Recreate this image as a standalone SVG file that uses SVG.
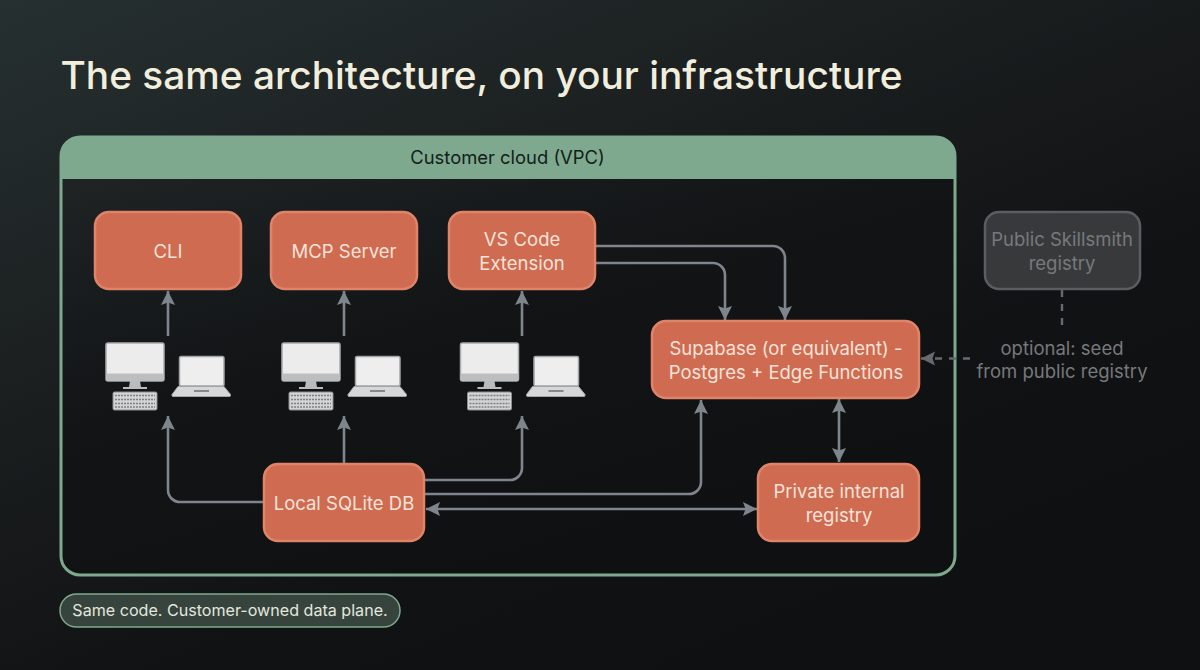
<svg xmlns="http://www.w3.org/2000/svg" width="1200" height="670" viewBox="0 0 1200 670">
<style>
text{font-family:Inter,"Liberation Sans",sans-serif;text-anchor:middle}
.node{fill:#cf6b50;stroke:#e08469;stroke-width:2.500}
.lbl{fill:#f7e3da;font-size:18.500px}
.c{fill:none;stroke:#7e858c;stroke-width:2.600}
.d{fill:none;stroke:#666a6e;stroke-width:2.400;stroke-dasharray:7 7}
.dim{fill:#77797b;font-size:18.500px}
</style>
<defs>
<linearGradient id="bg" x1="0" y1="0" x2="0.75" y2="1"><stop offset="0" stop-color="#263030"/><stop offset="0.35" stop-color="#1c2021"/><stop offset="0.7" stop-color="#111214"/><stop offset="1" stop-color="#0f1011"/></linearGradient>
<linearGradient id="inner" x1="0" y1="0" x2="0.6" y2="1"><stop offset="0" stop-color="#212627"/><stop offset="0.5" stop-color="#121416"/><stop offset="1" stop-color="#0f1012"/></linearGradient>
<marker id="a" markerUnits="userSpaceOnUse" markerWidth="15" markerHeight="15" refX="14" refY="7.500" orient="auto-start-reverse"><path d="M0 0.500L14 7.500L0 14.500L2.500 7.500Z" fill="#7e858c"/></marker>
<marker id="ad" markerUnits="userSpaceOnUse" markerWidth="15" markerHeight="15" refX="14" refY="7.500" orient="auto-start-reverse"><path d="M0 0.500L14 7.500L0 14.500L2.500 7.500Z" fill="#666a6e"/></marker>
<g id="devices">
<rect x="106" y="343" width="58" height="38" rx="2" fill="#ececec" stroke="#a9abad" stroke-width="1.500"/>
<rect x="106" y="373.500" width="58" height="7.500" rx="2" fill="#bcbec0"/>
<path d="M130 381h10l1 6h6v2h-24v-2h6z" fill="#b9bbbd"/>
<rect x="113" y="392" width="44" height="18" rx="1.500" fill="#d2d4d6" stroke="#8c8e90"/>
<path d="M115 395.500h40M115 399.500h40M115 403.500h40M115 407h40" stroke="#7d7f81" stroke-width="1.600" stroke-dasharray="2 1"/>
<rect x="179.500" y="356.500" width="44.500" height="29.500" rx="1.500" fill="#eeeeee" stroke="#a2a4a6" stroke-width="1.500"/>
<path d="M178 386.500h46l6.500 8v1q0 1-1 1h-56.500q-1 0-1-1v-1z" fill="#d5d7d9" stroke="#a2a4a6"/>
<rect x="194" y="390" width="15" height="2" fill="#85878a"/>
</g>
</defs>
<rect width="1200" height="670" fill="url(#bg)"/>
<text id="title" x="60.500" y="89" style="text-anchor:start;font-size:38.850px;font-weight:500" fill="#f1eedd">The same architecture, on your infrastructure</text>
<g id="vpc">
<rect x="61" y="137" width="894" height="438" rx="19" fill="url(#inner)" stroke="#7fa98f" stroke-width="3"/>
<path d="M61 179V156a19 19 0 0 1 19-19H936a19 19 0 0 1 19 19V179Z" fill="#7fa98f"/>
<text x="507.500" y="164" style="font-size:18.400px" fill="#122019">Customer cloud (VPC)</text>
</g>
<g id="connectors">
<path class="c" d="M168 336V291" marker-end="url(#a)"/>
<path class="c" d="M344 336V291" marker-end="url(#a)"/>
<path class="c" d="M522 336V291" marker-end="url(#a)"/>
<path class="c" d="M263 502H180a12 12 0 0 1-12-12V416" marker-end="url(#a)"/>
<path class="c" d="M344 463V416" marker-end="url(#a)"/>
<path class="c" d="M425 480H510a12 12 0 0 0 12-12V416" marker-end="url(#a)"/>
<path class="c" d="M425 494H689a12 12 0 0 0 12-12V400" marker-end="url(#a)"/>
<path class="c" d="M426 509H757" marker-start="url(#a)" marker-end="url(#a)"/>
<path class="c" d="M839 399V462" marker-start="url(#a)" marker-end="url(#a)"/>
<path class="c" d="M596 246H773a12 12 0 0 1 12 12V320" marker-end="url(#a)"/>
<path class="c" d="M596 263H713a12 12 0 0 1 12 12V320" marker-end="url(#a)"/>
<path class="d" d="M970 358.500H921" marker-end="url(#ad)"/>
<path class="d" d="M1062 290V329"/>
</g>
<g id="cli"><rect class="node" x="95" y="212" width="146" height="77" rx="14"/><text class="lbl" x="168" y="257.500">CLI</text></g>
<g id="mcp"><rect class="node" x="271" y="212" width="146" height="77" rx="14"/><text class="lbl" x="344" y="257.500">MCP Server</text></g>
<g id="vscode"><rect class="node" x="449" y="212" width="146" height="77" rx="14"/><text class="lbl" x="522" y="245.500">VS Code</text><text class="lbl" x="522" y="269.500">Extension</text></g>
<g id="supabase"><rect class="node" x="652" y="321" width="267" height="77" rx="14"/><text class="lbl" x="786" y="354.500">Supabase (or equivalent) -</text><text class="lbl" x="786" y="378.500">Postgres + Edge Functions</text></g>
<g id="sqlite"><rect class="node" x="264" y="464" width="160" height="77" rx="14"/><text class="lbl" x="344" y="509.500">Local SQLite DB</text></g>
<g id="private"><rect class="node" x="758" y="464" width="161" height="77" rx="14"/><text class="lbl" x="839" y="497.500">Private internal</text><text class="lbl" x="839" y="521.500">registry</text></g>
<g id="public"><rect x="985" y="212" width="155" height="77" rx="14" fill="#37393b" stroke="#5b5e60" stroke-width="2.500"/><text class="dim" x="1062" y="245.500">Public Skillsmith</text><text class="dim" x="1062" y="270">registry</text></g>
<g id="seed-label"><text class="dim" x="1062" y="354.500">optional: seed</text><text class="dim" x="1062" y="378">from public registry</text></g>
<g id="dev1"><use href="#devices"/></g>
<g id="dev2"><use href="#devices" x="176"/></g>
<g id="dev3"><use href="#devices" x="354.500"/></g>
<g id="note"><rect x="60" y="594" width="340" height="33" rx="16.500" fill="#36443d" stroke="#7fa98f" stroke-width="1.500"/><text x="230" y="616" style="font-size:16.100px" fill="#e4e7df">Same code. Customer-owned data plane.</text></g>
</svg>
